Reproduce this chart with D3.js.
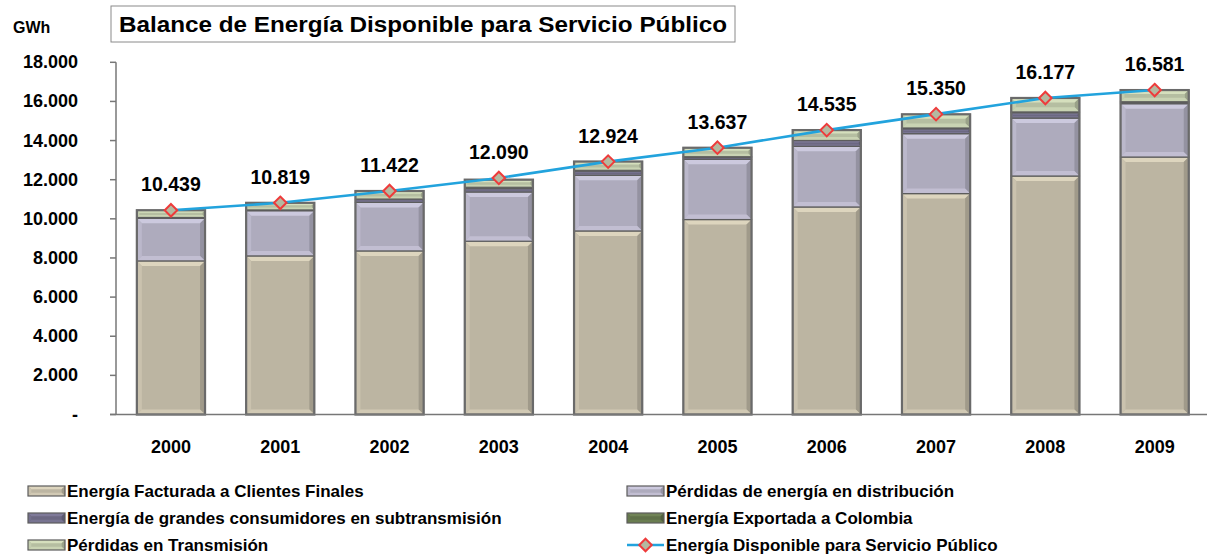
<!DOCTYPE html>
<html lang="es">
<head>
  <meta charset="UTF-8">
  <title>Balance de Energía Disponible para Servicio Público</title>
  <script src="https://d3js.org/d3.v7.min.js"></script>
  <style>
    body {
      margin: 0;
      padding: 0;
      background: #fff;
      font-family: Arial, 'Liberation Sans', sans-serif;
    }
    svg text {
      font-weight: bold;
      fill: #000;
    }
  </style>
</head>
<body>
  <svg id="chart" width="1207" height="558"></svg>

  <script>
    // Datos (GWh)
    const years = ['2000', '2001', '2002', '2003', '2004', '2005', '2006', '2007', '2008', '2009'];
    const facturada = [7850, 8105, 8360, 8856, 9381, 9963, 10606, 11290, 12188, 13158];
    const perdDistribucion = [2179, 2310, 2480, 2516, 2843, 3078, 3098, 3062, 2960, 2726];
    const grandesConsumidores = [40, 40, 170, 174, 220, 117, 300, 250, 276, 80];
    const exportadaColombia = [0, 0, 0, 67, 35, 16, 1, 40, 40, 20];
    const perdTransmision = [370, 364, 412, 390, 450, 460, 530, 700, 713, 597];
    const disponible = [10439, 10819, 11422, 12090, 12924, 13637, 14535, 15350, 16177, 16581];
    const yTicks = [0, 2000, 4000, 6000, 8000, 10000, 12000, 14000, 16000, 18000];

    const series = [
      { name: 'Energía Facturada a Clientes Finales', values: facturada, color: '#bcb5a2' },
      { name: 'Pérdidas de energía en distribución', values: perdDistribucion, color: '#aeabbd' },
      { name: 'Energía de grandes consumidores en subtransmisión', values: grandesConsumidores, color: '#6c6882' },
      { name: 'Energía Exportada a Colombia', values: exportadaColombia, color: '#5f7049' },
      { name: 'Pérdidas en Transmisión', values: perdTransmision, color: '#b5bea1' }
    ];
    const lineName = 'Energía Disponible para Servicio Público';

    const fmt = d3.formatLocale({ decimal: ',', thousands: '.', grouping: [3], currency: ['$', ''] }).format(',.0f');

    const svg = d3.select('#chart');

    const x = d3.scaleBand()
      .domain(years)
      .range([116.3, 1209.3])
      .paddingInner(0.376)
      .paddingOuter(0.188);

    const y = d3.scaleLinear()
      .domain([0, 18000])
      .range([414.5, 62.3]);

    // bevelled rectangle like the Excel "cool slant" bars
    function bevel(g, bx, by, bw, bh, color) {
      const c = d3.color(color);
      g.append('rect')
        .attr('x', bx).attr('y', by).attr('width', bw).attr('height', bh)
        .attr('fill', c);
      const b = Math.min(5, bh / 3);
      if (b > 0.8) {
        const faces = [
          { pts: [[bx, by], [bx + bw, by], [bx + bw - b, by + b], [bx + b, by + b]], f: c.brighter(0.45) },
          { pts: [[bx, by], [bx + b, by + b], [bx + b, by + bh - b], [bx, by + bh]], f: c.brighter(0.2) },
          { pts: [[bx + bw, by], [bx + bw - b, by + b], [bx + bw - b, by + bh - b], [bx + bw, by + bh]], f: c.darker(0.45) },
          { pts: [[bx, by + bh], [bx + b, by + bh - b], [bx + bw - b, by + bh - b], [bx + bw, by + bh]], f: c.brighter(0.3) }
        ];
        g.selectAll(null)
          .data(faces)
          .join('path')
          .attr('d', d => 'M' + d.pts.map(p => p.join(',')).join('L') + 'Z')
          .attr('fill', d => d.f);
      }
      g.append('rect')
        .attr('x', bx).attr('y', by).attr('width', bw).attr('height', bh)
        .attr('fill', 'none')
        .attr('stroke', '#5c5c5c')
        .attr('stroke-width', 1.2);
    }

    // Ejes
    svg.append('line')
      .attr('x1', x.range()[0] - 0.3).attr('x2', x.range()[0] - 0.3)
      .attr('y1', y(18000)).attr('y2', y(0))
      .attr('stroke', '#777').attr('stroke-width', 1.5);

    svg.append('g')
      .selectAll('line')
      .data(yTicks)
      .join('line')
      .attr('x1', 110).attr('x2', 116)
      .attr('y1', d => y(d)).attr('y2', d => y(d))
      .attr('stroke', '#777').attr('stroke-width', 1.5);

    svg.append('g')
      .selectAll('text')
      .data(yTicks)
      .join('text')
      .attr('x', 78)
      .attr('y', d => y(d) + 6)
      .attr('text-anchor', 'end')
      .attr('font-size', 18)
      .text(d => d === 0 ? '-' : fmt(d));

    // Barras apiladas
    const stack = years.map((yr, i) => {
      let acc = 0;
      return series.map(s => {
        const v = s.values[i];
        const seg = { year: yr, y0: acc, y1: acc + v, color: s.color };
        acc += v;
        return seg;
      });
    });

    const bars = svg.append('g');
    stack.forEach(segs => {
      const g = bars.append('g');
      const bx = x(segs[0].year);
      const bw = x.bandwidth();
      segs.filter(s => s.y1 > s.y0).forEach(s => {
        bevel(g, bx, y(s.y1), bw, y(s.y0) - y(s.y1), s.color);
      });
      const top = segs[segs.length - 1].y1;
      g.append('rect')
        .attr('x', bx).attr('y', y(top))
        .attr('width', bw).attr('height', y(0) - y(top))
        .attr('fill', 'none')
        .attr('stroke', '#6a6a6a')
        .attr('stroke-width', 2.2);
    });

    svg.append('line')
      .attr('x1', 110).attr('x2', 1207)
      .attr('y1', y(0)).attr('y2', y(0))
      .attr('stroke', '#777').attr('stroke-width', 1.5);

    svg.append('g')
      .selectAll('text')
      .data(years)
      .join('text')
      .attr('x', d => x(d) + x.bandwidth() / 2)
      .attr('y', 453)
      .attr('text-anchor', 'middle')
      .attr('font-size', 18)
      .text(d => d);

    // Línea de energía disponible
    const cx = d => x(d) + x.bandwidth() / 2;
    const line = d3.line()
      .x((d, i) => cx(years[i]))
      .y(d => y(d));

    svg.append('path')
      .datum(disponible)
      .attr('d', line)
      .attr('fill', 'none')
      .attr('stroke', '#22a3dd')
      .attr('stroke-width', 2.6);

    const diamond = d3.symbol().type(d3.symbolDiamond2).size(100);
    svg.append('g')
      .selectAll('path')
      .data(disponible)
      .join('path')
      .attr('transform', (d, i) => `translate(${cx(years[i])},${y(d)})`)
      .attr('d', diamond)
      .attr('fill', '#b4b9a0')
      .attr('stroke', '#ee3b3b')
      .attr('stroke-width', 2);

    svg.append('g')
      .selectAll('text')
      .data(disponible)
      .join('text')
      .attr('x', (d, i) => cx(years[i]))
      .attr('y', d => y(d) - 19)
      .attr('text-anchor', 'middle')
      .attr('font-size', 19.5)
      .text(d => fmt(d));

    // Título y unidad
    svg.append('rect')
      .attr('x', 111).attr('y', 6)
      .attr('width', 624).attr('height', 36)
      .attr('fill', '#fff')
      .attr('stroke', '#8a8a8a')
      .attr('stroke-width', 1);

    svg.append('text')
      .attr('x', 119).attr('y', 32)
      .attr('font-size', 22)
      .attr('textLength', 608)
      .attr('lengthAdjust', 'spacingAndGlyphs')
      .text('Balance de Energía Disponible para Servicio Público');

    svg.append('text')
      .attr('x', 13).attr('y', 33)
      .attr('font-size', 16)
      .text('GWh');

    // Leyenda
    const legendItems = [
      { s: series[0], col: 0, row: 0 },
      { s: series[1], col: 1, row: 0 },
      { s: series[2], col: 0, row: 1 },
      { s: series[3], col: 1, row: 1 },
      { s: series[4], col: 0, row: 2 }
    ];
    const colX = [28, 627];
    const rowY = [491, 518, 545];

    const legend = svg.append('g');
    legendItems.forEach(it => {
      const g = legend.append('g');
      bevel(g, colX[it.col], rowY[it.row] - 5, 37, 10, it.s.color);
      g.append('text')
        .attr('x', colX[it.col] + 39)
        .attr('y', rowY[it.row] + 6)
        .attr('font-size', 17)
        .text(it.s.name);
    });

    const lg = legend.append('g');
    lg.append('line')
      .attr('x1', colX[1]).attr('x2', colX[1] + 37)
      .attr('y1', rowY[2]).attr('y2', rowY[2])
      .attr('stroke', '#22a3dd').attr('stroke-width', 2.6);
    lg.append('path')
      .attr('transform', `translate(${colX[1] + 18.5},${rowY[2]})`)
      .attr('d', diamond)
      .attr('fill', '#b4b9a0')
      .attr('stroke', '#ee3b3b')
      .attr('stroke-width', 2);
    lg.append('text')
      .attr('x', colX[1] + 39)
      .attr('y', rowY[2] + 6)
      .attr('font-size', 17)
      .text(lineName);
  </script>
</body>
</html>
